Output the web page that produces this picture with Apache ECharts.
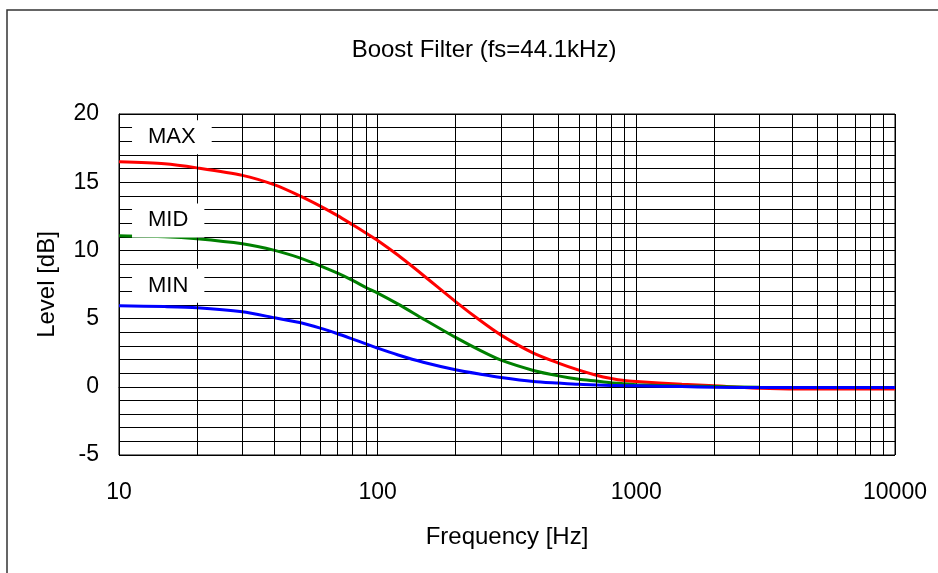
<!DOCTYPE html>
<html>
<head>
<meta charset="utf-8">
<script src="https://cdn.jsdelivr.net/npm/echarts@6/dist/echarts.min.js"></script>
<style>
html,body{margin:0;padding:0;background:#fff;}
#c{width:938px;height:573px;}
</style>
</head>
<body>
<div id="c"></div>
<script>
const freqs = [10, 15, 20, 30, 40, 50, 60, 70, 80, 90, 100, 120, 150, 200, 250, 300, 400, 500, 600, 700, 800, 900, 1000, 1500, 2000, 3000, 5000, 10000];
const maxLevels = [16.5, 16.35, 16.05, 15.5, 14.8, 14.0, 13.25, 12.55, 11.88, 11.28, 10.73, 9.64, 8.18, 6.25, 4.84, 3.79, 2.47, 1.74, 1.22, 0.85, 0.61, 0.46, 0.39, 0.18, 0.07, -0.1, -0.17, -0.17];
const midLevels = [11.07, 11.0, 10.85, 10.48, 10.0, 9.45, 8.87, 8.33, 7.8, 7.28, 6.87, 6.06, 4.98, 3.62, 2.65, 1.95, 1.2, 0.8, 0.55, 0.42, 0.3, 0.22, 0.15, 0.06, 0.02, -0.04, -0.05, -0.05];
const minLevels = [5.94, 5.88, 5.8, 5.5, 5.06, 4.71, 4.3, 3.89, 3.5, 3.15, 2.83, 2.33, 1.8, 1.25, 0.92, 0.68, 0.39, 0.27, 0.18, 0.14, 0.1, 0.08, 0.07, 0.02, -0.03, -0.05, -0.05, -0.05];
const gridFreqs = [20, 30, 40, 50, 60, 70, 80, 90, 200, 300, 400, 500, 600, 700, 800, 900, 2000, 3000, 4000, 5000, 6000, 7000, 8000, 9000];
const labelTexts = ['MAX', 'MID', 'MIN'];
const labelFreqs = [11.23, 11.23, 11.23];
const labelLevels = [18.3, 12.2, 7.4];

const FONT = "'Liberation Sans', Arial, sans-serif";
const chart = echarts.init(document.getElementById('c'), null, {renderer: 'canvas'});
const pair = (ys) => freqs.map((f, i) => [f, ys[i]]);

chart.setOption({
  backgroundColor: '#fff',
  animation: false,
  textStyle: {fontFamily: FONT},
  title: {
    text: 'Boost Filter (fs=44.1kHz)',
    left: 479, top: 33, textAlign: 'center',
    textStyle: {fontFamily: FONT, fontSize: 24, fontWeight: 'normal', color: '#000'}
  },
  graphic: [{
    type: 'rect', silent: true, z: 100,
    shape: {x: 7, y: 10, width: 1000, height: 700},
    style: {fill: 'none', stroke: '#333', lineWidth: 1.5}
  }],
  grid: {left: 119, right: 43, top: 114, bottom: 118, show: true, borderColor: '#000', borderWidth: 1, backgroundColor: 'transparent'},
  xAxis: {
    type: 'log', logBase: 10, min: 10, max: 10000,
    name: 'Frequency [Hz]', nameLocation: 'middle', nameGap: 70,
    nameTextStyle: {fontFamily: FONT, fontSize: 24, color: '#000'},
    axisLine: {show: true, lineStyle: {color: '#000', width: 1}},
    axisTick: {show: false},
    axisLabel: {fontFamily: FONT, fontSize: 23, color: '#000', margin: 26, formatter: v => String(Math.round(v))},
    splitLine: {show: true, lineStyle: {color: '#000', width: 1}},
    minorSplitLine: {show: false}
  },
  yAxis: {
    type: 'value', min: -5, max: 20, interval: 5,
    name: 'Level [dB]', nameLocation: 'middle', nameGap: 60,
    nameTextStyle: {fontFamily: FONT, fontSize: 24, color: '#000'},
    axisLine: {show: true, lineStyle: {color: '#000', width: 1}},
    axisTick: {show: false},
    axisLabel: {fontFamily: FONT, fontSize: 23, color: '#000', margin: 20},
    splitLine: {show: true, lineStyle: {color: '#000', width: 1}},
    minorTick: {show: false, splitNumber: 5},
    minorSplitLine: {show: true, lineStyle: {color: '#000', width: 1}}
  },
  series: [
    {
      type: 'line', name: 'grid', data: [], silent: true, z: 1,
      markLine: {
        silent: true, symbol: ['none', 'none'], animation: false,
        label: {show: false},
        lineStyle: {color: '#000', width: 1, type: 'solid'},
        emphasis: {disabled: true},
        data: gridFreqs.map(f => ({xAxis: f}))
      }
    },
    {type: 'line', name: 'MAX', data: pair(maxLevels), smooth: 0.25, symbol: 'none', z: 3, lineStyle: {color: '#ff0000', width: 3}},
    {type: 'line', name: 'MID', data: pair(midLevels), smooth: 0.25, symbol: 'none', z: 3, lineStyle: {color: '#008000', width: 3}},
    {type: 'line', name: 'MIN', data: pair(minLevels), smooth: 0.25, symbol: 'none', z: 3, lineStyle: {color: '#0000ff', width: 3}},
    {
      type: 'scatter', name: 'labels', silent: true, z: 10, symbolSize: 0,
      itemStyle: {opacity: 1},
      data: labelTexts.map((t, i) => ({value: [labelFreqs[i], labelLevels[i]], name: t})),
      label: {
        show: true, position: 'right', distance: 0,
        formatter: p => p.name,
        fontFamily: FONT, fontSize: 22, color: '#000',
        backgroundColor: '#fff', padding: [6, 16], lineHeight: 22
      }
    }
  ]
});
</script>
</body>
</html>
